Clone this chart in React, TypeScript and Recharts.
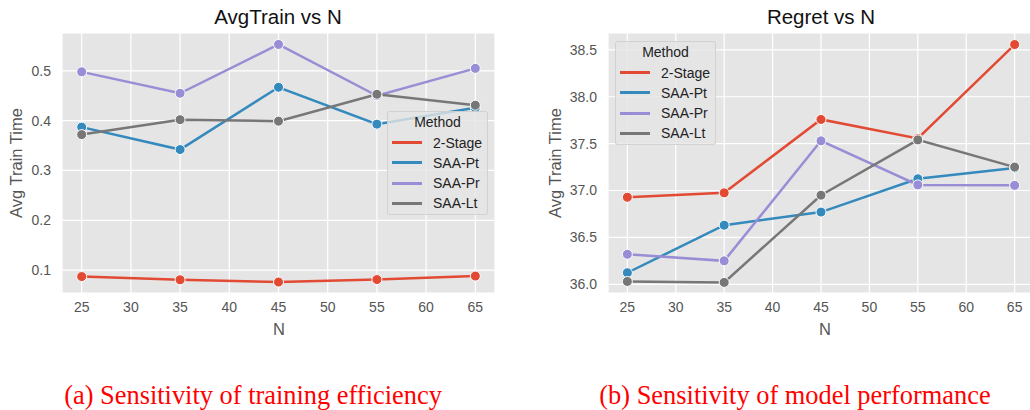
import React from "react";
import { LineChart, Line, XAxis, YAxis, CartesianGrid } from "recharts";

const N_VALUES = [25, 35, 45, 55, 65];
const X_TICKS = [25, 30, 35, 40, 45, 50, 55, 60, 65];
const SERIES = ["2-Stage", "SAA-Pt", "SAA-Pr", "SAA-Lt"];
const COLORS = ["#E24A33", "#348ABD", "#988ED5", "#777777"];

// Left panel: average training time
const TRAIN_2STAGE = [0.087, 0.0805, 0.076, 0.081, 0.088];
const TRAIN_PT = [0.387, 0.342, 0.467, 0.393, 0.426];
const TRAIN_PR = [0.498, 0.455, 0.553, 0.45, 0.505];
const TRAIN_LT = [0.372, 0.402, 0.399, 0.453, 0.431];
const TRAIN_Y_TICKS = [0.1, 0.2, 0.3, 0.4, 0.5];

// Right panel: regret
const REGRET_2STAGE = [36.928, 36.975, 37.758, 37.555, 38.557];
const REGRET_PT = [36.123, 36.63, 36.77, 37.125, 37.24];
const REGRET_PR = [36.32, 36.25, 37.53, 37.06, 37.055];
const REGRET_LT = [36.03, 36.02, 36.95, 37.54, 37.25];
const REGRET_Y_TICKS = [36.0, 36.5, 37.0, 37.5, 38.0, 38.5];

const buildRows = (cols: number[][]) =>
  N_VALUES.map((n, i) => {
    const row: Record<string, number> = { n };
    SERIES.forEach((s, k) => (row[s] = cols[k][i]));
    return row;
  });

const trainRows = buildRows([TRAIN_2STAGE, TRAIN_PT, TRAIN_PR, TRAIN_LT]);
const regretRows = buildRows([REGRET_2STAGE, REGRET_PT, REGRET_PR, REGRET_LT]);

const SANS = "'Liberation Sans', Arial, Helvetica, sans-serif";
const SERIF = "'Liberation Serif', 'Times New Roman', serif";

const tickStyle = { fill: "#555555", fontSize: 14, fontFamily: SANS };

function Panel(props: {
  rows: Record<string, number>[];
  width: number;
  yWidth: number;
  yDomain: [number, number];
  yTicks: number[];
  right: number;
}) {
  const { rows, width, yWidth, yDomain, yTicks, right } = props;
  return (
    <LineChart
      width={width}
      height={330}
      data={rows}
      margin={{ top: 33, right, left: 0, bottom: 0 }}
    >
      <CartesianGrid fill="#E5E5E5" fillOpacity={1} stroke="#FFFFFF" strokeWidth={1.2} />
      <XAxis
        type="number"
        dataKey="n"
        domain={[23, 67]}
        ticks={X_TICKS}
        allowDataOverflow
        axisLine={false}
        tickLine={false}
        tickSize={0}
        tickMargin={9}
        height={37}
        tick={tickStyle}
      />
      <YAxis
        type="number"
        domain={yDomain}
        ticks={yTicks}
        allowDataOverflow
        axisLine={false}
        tickLine={false}
        tickSize={0}
        tickMargin={11}
        width={yWidth}
        tick={tickStyle}
        tickFormatter={(v: number) => v.toFixed(1)}
      />
      {SERIES.map((s, k) => (
        <Line
          key={s}
          type="linear"
          dataKey={s}
          stroke={COLORS[k]}
          strokeWidth={2.5}
          dot={{ r: 5, fill: COLORS[k], stroke: "#FFFFFF", strokeWidth: 1, fillOpacity: 1 }}
          activeDot={false}
          isAnimationActive={false}
        />
      ))}
    </LineChart>
  );
}

function LegendBox(props: { left: number; top: number }) {
  const { left, top } = props;
  return (
    <div
      style={{
        position: "absolute",
        left,
        top,
        width: 101,
        height: 104,
        boxSizing: "border-box",
        background: "rgba(229,229,229,0.8)",
        border: "1px solid rgba(204,204,204,0.8)",
        borderRadius: 3,
        fontFamily: SANS,
        fontSize: 14,
        color: "#222",
      }}
    >
      <div
        style={{
          position: "absolute",
          left: 0,
          width: "100%",
          top: 0,
          lineHeight: "20px",
          textAlign: "center",
        }}
      >
        Method
      </div>
      {SERIES.map((s, k) => (
        <div
          key={s}
          style={{ position: "absolute", left: 0, top: 20.5 + k * 20.3, height: 20, width: "100%" }}
        >
          <div
            style={{
              position: "absolute",
              left: 4,
              top: 8.5,
              width: 30,
              height: 3,
              background: COLORS[k],
            }}
          />
          <div style={{ position: "absolute", left: 45, top: 0, lineHeight: "20px" }}>{s}</div>
        </div>
      ))}
    </div>
  );
}

const textAbs = (x: number, y: number, extra: React.CSSProperties = {}): React.CSSProperties => ({
  position: "absolute",
  left: x,
  top: y,
  transform: "translate(-50%, -50%)",
  whiteSpace: "nowrap",
  ...extra,
});

export default function App() {
  return (
    <div
      style={{
        position: "absolute",
        left: 0,
        top: 0,
        width: 1030,
        height: 410,
        overflow: "hidden",
        background: "#FFFFFF",
      }}
    >
      <div style={{ position: "absolute", left: 0, top: 0 }}>
        <Panel
          rows={trainRows}
          width={500}
          yWidth={62}
          yDomain={[0.054, 0.576]}
          yTicks={TRAIN_Y_TICKS}
          right={5}
        />
      </div>
      <div style={{ position: "absolute", left: 510, top: 0 }}>
        <Panel
          rows={regretRows}
          width={524}
          yWidth={98}
          yDomain={[35.907, 38.68]}
          yTicks={REGRET_Y_TICKS}
          right={0}
        />
      </div>

      <LegendBox left={387} top={111} />
      <LegendBox left={615} top={41} />

      <div style={textAbs(278, 17, { fontFamily: SANS, fontSize: 20.5, color: "#111" })}>AvgTrain vs N</div>
      <div style={textAbs(821, 17, { fontFamily: SANS, fontSize: 20.5, color: "#111" })}>Regret vs N</div>

      <div style={textAbs(279, 329, { fontFamily: SANS, fontSize: 16.5, color: "#555555" })}>N</div>
      <div style={textAbs(825, 329, { fontFamily: SANS, fontSize: 16.5, color: "#555555" })}>N</div>

      <div
        style={textAbs(16, 163, {
          fontFamily: SANS,
          fontSize: 16.5,
          color: "#555555",
          transform: "translate(-50%, -50%) rotate(-90deg)",
        })}
      >
        Avg Train Time
      </div>
      <div
        style={textAbs(555, 163, {
          fontFamily: SANS,
          fontSize: 16.5,
          color: "#555555",
          transform: "translate(-50%, -50%) rotate(-90deg)",
        })}
      >
        Avg Train Time
      </div>

      <div style={textAbs(253, 395, { fontFamily: SERIF, fontSize: 26.4, color: "#FF0000" })}>
        (a) Sensitivity of training efficiency
      </div>
      <div style={textAbs(795, 395, { fontFamily: SERIF, fontSize: 26.4, color: "#FF0000" })}>
        (b) Sensitivity of model performance
      </div>
    </div>
  );
}
